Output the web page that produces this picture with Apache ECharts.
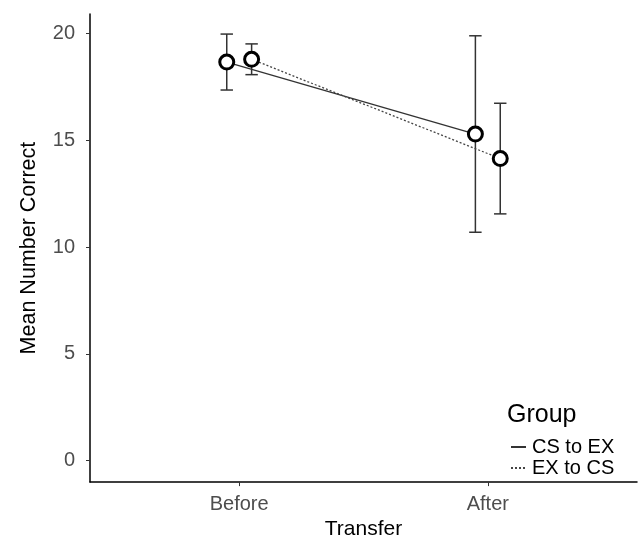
<!DOCTYPE html>
<html>
<head>
<meta charset="utf-8">
<script src="https://cdn.jsdelivr.net/npm/echarts@6/dist/echarts.min.js"></script>
<style>html,body{margin:0;padding:0;background:#fff}#c{width:638px;height:545px}</style>
</head>
<body>
<div id="c"></div>
<script>
var categories = ['Before', 'After'];
var groups = ['CS to EX', 'EX to CS'];
var csMeans = [18.67, 15.3];
var csErr = [1.31, 4.6];
var exMeans = [18.8, 14.15];
var exErr = [0.72, 2.59];
var yTicks = [0, 5, 10, 15, 20];

var dodge = [-0.05, 0.05];
var capHalf = 0.025;
var FONT = 'Liberation Sans, Arial, sans-serif';

function pts(means, off) {
  return means.map(function (m, i) { return [i + 1 + off, m]; });
}
function errData(means, errs, off) {
  return means.map(function (m, i) { return [i + 1 + off, m - errs[i], m + errs[i]]; });
}
function errRender(params, api) {
  var x = api.value(0), lo = api.value(1), hi = api.value(2);
  var pLo = api.coord([x, lo]), pHi = api.coord([x, hi]);
  var l = api.coord([x - capHalf, lo])[0], r = api.coord([x + capHalf, lo])[0];
  var st = { stroke: '#333', lineWidth: 1.5 };
  return {
    type: 'group',
    children: [
      { type: 'line', shape: { x1: pLo[0], y1: pLo[1], x2: pHi[0], y2: pHi[1] }, style: st },
      { type: 'line', shape: { x1: l, y1: pLo[1], x2: r, y2: pLo[1] }, style: st },
      { type: 'line', shape: { x1: l, y1: pHi[1], x2: r, y2: pHi[1] }, style: st }
    ]
  };
}

var chart = echarts.init(document.getElementById('c'));
chart.setOption({
  animation: false,
  backgroundColor: '#fff',
  textStyle: { fontFamily: FONT },
  grid: { left: 90, right: 1, top: 14, bottom: 60 },
  title: {
    text: 'Group', left: 502, top: 398,
    textStyle: { fontFamily: FONT, fontSize: 25, fontWeight: 'normal', color: '#000' }
  },
  legend: {
    data: groups, orient: 'vertical', left: 505, top: 432,
    itemWidth: 15, itemHeight: 10, itemGap: 1,
    itemStyle: { opacity: 0 },
    textStyle: { fontFamily: FONT, fontSize: 20, color: '#000', padding: [0, 0, 0, 1] }
  },
  xAxis: {
    type: 'value', min: 0.4, max: 2.6,
    name: 'Transfer', nameLocation: 'middle', nameGap: 36,
    nameTextStyle: { fontFamily: FONT, fontSize: 21, color: '#000' },
    axisLine: { show: true, onZero: false, lineStyle: { color: '#000', width: 1.5 } },
    axisTick: { show: true, customValues: [1, 2], length: 4, lineStyle: { color: '#333' } },
    axisLabel: {
      customValues: [1, 2], margin: 12,
      fontFamily: FONT, fontSize: 20, color: '#4d4d4d',
      formatter: function (v) { return categories[Math.round(v) - 1]; }
    },
    splitLine: { show: false }
  },
  yAxis: {
    type: 'value', min: -1, max: 20.92,
    name: 'Mean Number Correct', nameLocation: 'middle', nameGap: 50,
    nameTextStyle: { fontFamily: FONT, fontSize: 21.5, color: '#000' },
    axisLine: { show: true, onZero: false, lineStyle: { color: '#000', width: 1.5 } },
    axisTick: { show: true, customValues: yTicks, length: 4, lineStyle: { color: '#333' } },
    axisLabel: { customValues: yTicks, margin: 15, fontFamily: FONT, fontSize: 20, color: '#4d4d4d' },
    splitLine: { show: false }
  },
  series: [
    { type: 'custom', renderItem: errRender, data: errData(csMeans, csErr, dodge[0]), z: 1, silent: true },
    { type: 'custom', renderItem: errRender, data: errData(exMeans, exErr, dodge[1]), z: 1, silent: true },
    { name: groups[0], type: 'line', data: pts(csMeans, dodge[0]), symbol: 'none', z: 2,
      lineStyle: { color: '#333', width: 1.3, type: 'solid' }, itemStyle: { color: '#333' } },
    { name: groups[1], type: 'line', data: pts(exMeans, dodge[1]), symbol: 'none', z: 2,
      lineStyle: { color: '#444', width: 1.3, type: [2, 2] }, itemStyle: { color: '#444' } },
    { type: 'scatter', data: pts(csMeans, dodge[0]).concat(pts(exMeans, dodge[1])), z: 3,
      symbol: 'circle', symbolSize: 14,
      itemStyle: { color: '#fff', borderColor: '#000', borderWidth: 3, opacity: 1 } }
  ]
});
</script>
</body>
</html>
